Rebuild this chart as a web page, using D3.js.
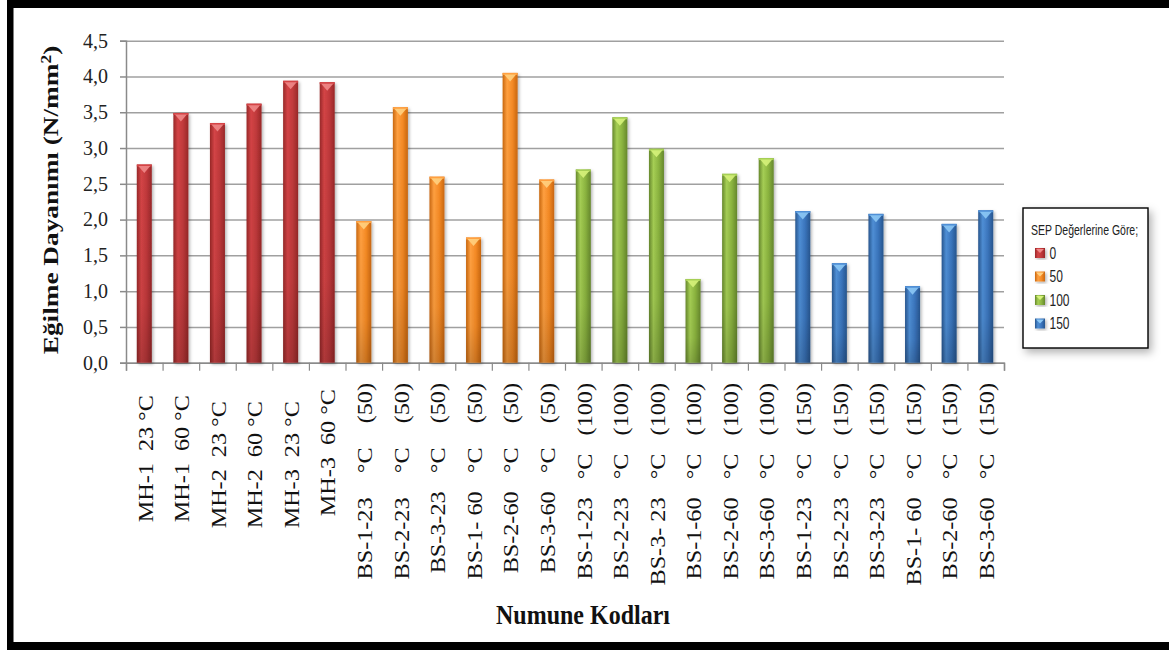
<!DOCTYPE html>
<html>
<head>
<meta charset="utf-8">
<script src="https://cdn.jsdelivr.net/npm/d3@7"></script>
<style>
  html, body { margin: 0; padding: 0; background: #fff; }
  svg { display: block; }
  text { white-space: pre; }
</style>
</head>
<body>
<svg id="chart" width="1169" height="650"></svg>
<script>
// Sample codes along the x axis
const categories = [
  "MH-1  23 °C  ", "MH-1  60 °C  ", "MH-2  23 °C   ", "MH-2  60 °C   ", "MH-3  23 °C   ", "MH-3  60 °C ",
  "BS-1-23    °C    (50)", "BS-2-23    °C    (50)", "BS-3-23   °C    (50)", "BS-1- 60   °C    (50)", "BS-2-60   °C    (50)", "BS-3-60   °C    (50)",
  "BS-1-23   °C   (100)", "BS-2-23   °C   (100)", "BS-3- 23   °C   (100)", "BS-1-60   °C   (100)", "BS-2-60   °C   (100)", "BS-3-60   °C   (100)",
  "BS-1-23   °C   (150)", "BS-2-23   °C   (150)", "BS-3-23   °C   (150)", "BS-1- 60   °C   (150)", "BS-2-60   °C   (150)", "BS-3-60   °C   (150)"
];
// Flexural strength (N/mm²)
const values = [
  2.77, 3.49, 3.35, 3.62, 3.94, 3.92,
  1.98, 3.57, 2.60, 1.75, 4.05, 2.56,
  2.70, 3.43, 2.99, 1.17, 2.64, 2.86,
  2.12, 1.39, 2.08, 1.07, 1.94, 2.13
];
// SEP level of each sample
const sepLevels = [
  "0", "0", "0", "0", "0", "0",
  "50", "50", "50", "50", "50", "50",
  "100", "100", "100", "100", "100", "100",
  "150", "150", "150", "150", "150", "150"
];
const legendKeys = ["0", "50", "100", "150"];
const yTicks = [0, 0.5, 1.0, 1.5, 2.0, 2.5, 3.0, 3.5, 4.0, 4.5];

// Bar shading: edge, light, mid, cap
const palette = {
  "0":   { edge: "#982828", light: "#d44446", mid: "#c0393b", cap: "#f08888" },
  "50":  { edge: "#c9670f", light: "#ffa040", mid: "#f58a25", cap: "#ffd080" },
  "100": { edge: "#66882c", light: "#a6cf55", mid: "#8bb43f", cap: "#d6f27a" },
  "150": { edge: "#27568f", light: "#4f8fd6", mid: "#3a75bd", cap: "#8cc8f5" }
};

const serif = "'Liberation Serif', 'Times New Roman', serif";
const sans = "'Liberation Sans', Arial, sans-serif";

const svg = d3.select("#chart");
const defs = svg.append("defs");

legendKeys.forEach(k => {
  const c = palette[k];
  const g = defs.append("linearGradient").attr("id", "grad" + k)
    .attr("x1", 0).attr("x2", 1).attr("y1", 0).attr("y2", 0);
  g.append("stop").attr("offset", "0%").attr("stop-color", c.edge);
  g.append("stop").attr("offset", "30%").attr("stop-color", c.light);
  g.append("stop").attr("offset", "65%").attr("stop-color", c.mid);
  g.append("stop").attr("offset", "100%").attr("stop-color", c.edge);
});
const vshade = defs.append("linearGradient").attr("id", "vshade")
  .attr("x1", 0).attr("x2", 0).attr("y1", 0).attr("y2", 1);
vshade.append("stop").attr("offset", "0%").attr("stop-color", "#000").attr("stop-opacity", 0);
vshade.append("stop").attr("offset", "70%").attr("stop-color", "#000").attr("stop-opacity", 0.05);
vshade.append("stop").attr("offset", "100%").attr("stop-color", "#000").attr("stop-opacity", 0.18);

const shadow = defs.append("filter").attr("id", "barShadow")
  .attr("x", "-50%").attr("y", "-10%").attr("width", "200%").attr("height", "130%");
shadow.append("feDropShadow").attr("dx", 1.5).attr("dy", 1.5).attr("stdDeviation", 1.5)
  .attr("flood-color", "#000").attr("flood-opacity", 0.3);

const legShadow = defs.append("filter").attr("id", "legShadow")
  .attr("x", "-20%").attr("y", "-20%").attr("width", "140%").attr("height", "140%");
legShadow.append("feDropShadow").attr("dx", 3).attr("dy", 4).attr("stdDeviation", 4)
  .attr("flood-color", "#000").attr("flood-opacity", 0.3);

// Outer frame
svg.append("rect").attr("x", 7).attr("y", 0).attr("width", 1162).attr("height", 8).attr("fill", "#000");
svg.append("rect").attr("x", 7).attr("y", 0).attr("width", 6.5).attr("height", 650).attr("fill", "#000");
svg.append("rect").attr("x", 7).attr("y", 642).attr("width", 1162).attr("height", 8).attr("fill", "#000");

const plotLeft = 126, plotRight = 1004, plotTop = 40.7, plotBottom = 362.7;

const x = d3.scaleBand().domain(categories).range([plotLeft, plotRight])
  .paddingInner(0.59).paddingOuter(0.295);
const xEdges = d3.scaleLinear().domain([0, categories.length]).range([plotLeft, plotRight]);
const y = d3.scaleLinear().domain([0, 4.5]).range([plotBottom, plotTop]);

// Gridlines
svg.append("g")
  .attr("transform", `translate(${plotLeft},0)`)
  .call(d3.axisLeft(y).tickValues(yTicks).tickSize(-(plotRight - plotLeft)).tickFormat(""))
  .call(g => g.select(".domain").remove())
  .call(g => g.selectAll("line").attr("stroke", "#a0a0a0").attr("stroke-width", 1.5));

// Y axis
svg.append("g")
  .attr("transform", `translate(${plotLeft},0)`)
  .call(d3.axisLeft(y).tickValues(yTicks).tickSize(6).tickPadding(12)
    .tickFormat(d => d.toFixed(1).replace(".", ",")))
  .call(g => g.select(".domain").attr("stroke", "#8a8a8a").attr("stroke-width", 1.5))
  .call(g => g.selectAll("line").attr("stroke", "#8a8a8a").attr("stroke-width", 1.5))
  .call(g => g.selectAll("text")
    .attr("font-family", serif)
    .attr("font-size", 20).attr("fill", "#222"));

// X axis with ticks at category boundaries
svg.append("g")
  .attr("transform", `translate(0,${plotBottom})`)
  .call(d3.axisBottom(xEdges).tickValues(d3.range(categories.length + 1)).tickSize(8).tickFormat(""))
  .call(g => g.select(".domain").attr("stroke", "#8a8a8a").attr("stroke-width", 1.5))
  .call(g => g.selectAll("line").attr("stroke", "#8a8a8a").attr("stroke-width", 1.2));

// Bars
const bars = svg.append("g").selectAll("g.bar")
  .data(categories.map((c, i) => ({ c, v: values[i], k: sepLevels[i] })))
  .join("g").attr("class", "bar");

bars.append("rect")
  .attr("x", d => x(d.c)).attr("y", d => y(d.v))
  .attr("width", x.bandwidth()).attr("height", d => y(0) - y(d.v))
  .attr("fill", d => `url(#grad${d.k})`)
  .attr("filter", "url(#barShadow)");
bars.append("rect")
  .attr("x", d => x(d.c)).attr("y", d => y(d.v))
  .attr("width", x.bandwidth()).attr("height", d => y(0) - y(d.v))
  .attr("fill", "url(#vshade)");
bars.append("rect")
  .attr("x", d => x(d.c)).attr("y", d => y(d.v))
  .attr("width", x.bandwidth()).attr("height", 2)
  .attr("fill", d => palette[d.k].light);
bars.append("path")
  .attr("d", d => {
    const x0 = x(d.c), w = x.bandwidth(), t = y(d.v) + 1.5;
    return `M${x0 + 1.5},${t} L${x0 + w - 1.5},${t} L${x0 + w / 2},${t + 7} Z`;
  })
  .attr("fill", d => palette[d.k].cap).attr("opacity", 0.9);

// Category labels, rotated (slightly stretched along the reading direction)
svg.append("g").selectAll("text")
  .data(categories)
  .join("text")
  .attr("transform", d => `translate(${x(d) + x.bandwidth() / 2 + 0.5},383) rotate(-90) scale(1.1,1)`)
  .attr("text-anchor", "end")
  .attr("dy", "0.35em")
  .attr("font-family", serif)
  .attr("font-size", 22)
  .attr("fill", "#111")
  .text(d => d);

// Axis titles
const yTitle = svg.append("text")
  .attr("transform", "translate(50,200) rotate(-90) scale(1.24,1)")
  .attr("text-anchor", "middle")
  .attr("dy", "0.35em")
  .attr("font-family", serif)
  .attr("font-weight", "bold")
  .attr("font-size", 22)
  .attr("fill", "#111");
yTitle.append("tspan").text("Eğilme Dayanımı (N/mm");
yTitle.append("tspan").attr("baseline-shift", "super").attr("font-size", 14).text("2");
yTitle.append("tspan").text(")");

svg.append("text")
  .attr("transform", "translate(583,624) scale(1,1.12)")
  .attr("text-anchor", "middle")
  .attr("font-family", serif)
  .attr("font-weight", "bold")
  .attr("font-size", 24)
  .attr("fill", "#111")
  .text("Numune Kodları");

// Legend
const legend = svg.append("g");
legend.append("rect")
  .attr("x", 1023).attr("y", 208).attr("width", 125).attr("height", 140)
  .attr("fill", "#fff").attr("stroke", "#000").attr("stroke-width", 1.4)
  .attr("filter", "url(#legShadow)");
legend.append("text")
  .attr("transform", "translate(1031,230) scale(1,1.4)")
  .attr("dy", "0.35em")
  .attr("font-family", sans)
  .attr("font-size", 10.5).attr("fill", "#222")
  .text("SEP Değerlerine Göre;");
const legItems = legend.selectAll("g.item").data(legendKeys).join("g").attr("class", "item")
  .attr("transform", (d, i) => `translate(1035,${253 + i * 23.5})`);
legItems.append("rect")
  .attr("x", 0).attr("y", -5).attr("width", 10).attr("height", 10)
  .attr("fill", d => `url(#grad${d})`).attr("filter", "url(#barShadow)");
legItems.append("path")
  .attr("d", "M1,-4 L9,-4 L5,0 Z")
  .attr("fill", d => palette[d].cap);
legItems.append("text")
  .attr("transform", "translate(14.5,0) scale(1,1.4)")
  .attr("dy", "0.35em")
  .attr("font-family", sans)
  .attr("font-size", 12).attr("fill", "#222")
  .text(d => d);
</script>
</body>
</html>
